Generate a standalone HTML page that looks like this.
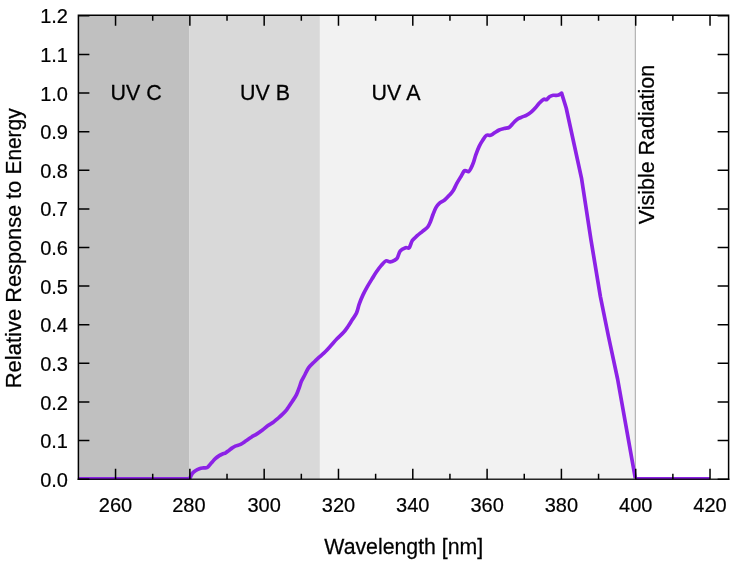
<!DOCTYPE html><html><head><meta charset="utf-8"><style>html,body{margin:0;padding:0;background:#fff;width:750px;height:564px;overflow:hidden}svg{display:block;filter:blur(0.35px)}</style></head><body>
<svg width="750" height="564" viewBox="0 0 750 564">
<rect x="78.4" y="15.3" width="110.70" height="463.90" fill="#c0c0c0"/>
<rect x="189.1" y="15.3" width="130.80" height="463.90" fill="#d9d9d9"/>
<rect x="319.90" y="15.3" width="315.40" height="463.90" fill="#f2f2f2"/>
<line x1="635.3" y1="15.3" x2="635.3" y2="479.2" stroke="#a6a6a6" stroke-width="1"/>
<g font-family="Liberation Sans" font-size="22" fill="#000" stroke="#000" stroke-width="0.25" text-anchor="middle">
<text transform="translate(136,99.5) scale(0.975,1)">UV C</text>
<text transform="translate(265,99.5) scale(0.975,1)">UV B</text>
<text transform="translate(396,99.5) scale(0.975,1)">UV A</text>
<text transform="translate(654.3,144.5) rotate(-90) scale(0.975,1)">Visible Radiation</text>
<text text-anchor="start" transform="translate(21,388.3) rotate(-90) scale(1.0,1)">Relative</text>
<text text-anchor="start" transform="translate(21,302.8) rotate(-90) scale(0.99,1)">Response</text>
<text text-anchor="start" transform="translate(21,199.05) rotate(-90) scale(1.0,1)">to</text>
<text text-anchor="start" transform="translate(21,174.55) rotate(-90) scale(0.95,1)">Energy</text>
<text transform="translate(403.8,553.8) scale(0.968,1)">Wavelength [nm]</text>
</g>
<polyline points="78.4,478.3 189.6,478.3" fill="none" stroke="#8c22e6" stroke-width="2.7"/>
<polyline points="635.3,478.3 710,478.3" fill="none" stroke="#8c22e6" stroke-width="2.7"/>
<path d="M189.60,478.30C189.70,478.17 189.77,478.30 190.20,477.50C190.63,476.70 191.33,474.63 192.20,473.50C193.07,472.37 194.20,471.50 195.40,470.70C196.60,469.90 198.08,469.17 199.40,468.70C200.72,468.23 201.98,468.10 203.30,467.90C204.62,467.70 205.97,468.30 207.30,467.50C208.63,466.70 209.97,464.57 211.30,463.10C212.63,461.63 213.97,459.95 215.30,458.70C216.63,457.45 218.10,456.38 219.30,455.60C220.50,454.82 221.43,454.47 222.50,454.00C223.57,453.53 224.63,453.40 225.70,452.80C226.77,452.20 227.80,451.22 228.90,450.40C230.00,449.58 231.23,448.62 232.30,447.90C233.37,447.18 233.92,446.70 235.30,446.10C236.68,445.50 238.82,445.18 240.60,444.30C242.38,443.42 244.22,441.98 246.00,440.80C247.78,439.62 249.53,438.32 251.30,437.20C253.07,436.08 254.73,435.30 256.60,434.10C258.47,432.90 260.60,431.43 262.50,430.00C264.40,428.57 266.20,426.78 268.00,425.50C269.80,424.22 271.70,423.45 273.30,422.30C274.90,421.15 276.10,419.92 277.60,418.60C279.10,417.28 280.77,415.90 282.30,414.40C283.83,412.90 285.17,411.72 286.80,409.60C288.43,407.48 290.48,404.20 292.10,401.70C293.72,399.20 295.25,397.12 296.50,394.60C297.75,392.08 298.78,388.82 299.60,386.60C300.42,384.38 300.50,383.32 301.40,381.30C302.30,379.28 303.82,376.73 305.00,374.50C306.18,372.27 306.97,369.98 308.50,367.90C310.03,365.82 312.30,363.88 314.20,362.00C316.10,360.12 318.02,358.35 319.90,356.60C321.78,354.85 323.62,353.38 325.50,351.50C327.38,349.62 329.28,347.42 331.20,345.30C333.12,343.18 334.97,340.92 337.00,338.80C339.03,336.68 341.60,334.60 343.40,332.60C345.20,330.60 346.33,328.93 347.80,326.80C349.27,324.67 350.75,322.10 352.20,319.80C353.65,317.50 355.32,315.65 356.50,313.00C357.68,310.35 358.22,306.92 359.30,303.90C360.38,300.88 361.68,297.73 363.00,294.90C364.32,292.07 365.70,289.57 367.20,286.90C368.70,284.23 370.48,281.38 372.00,278.90C373.52,276.42 374.78,274.22 376.30,272.00C377.82,269.78 379.50,267.45 381.10,265.60C382.70,263.75 384.40,261.52 385.90,260.90C387.40,260.28 388.68,262.00 390.10,261.90C391.52,261.80 393.20,260.97 394.40,260.30C395.60,259.63 396.32,259.48 397.30,257.90C398.28,256.32 398.92,252.50 400.30,250.80C401.68,249.10 404.12,248.22 405.60,247.70C407.08,247.18 408.08,248.88 409.20,247.70C410.32,246.52 410.97,242.60 412.30,240.60C413.63,238.60 415.50,237.25 417.20,235.70C418.90,234.15 420.73,232.78 422.50,231.30C424.27,229.82 426.47,228.43 427.80,226.80C429.13,225.17 429.63,223.55 430.50,221.50C431.37,219.45 432.12,216.78 433.00,214.50C433.88,212.22 434.75,209.65 435.80,207.80C436.85,205.95 437.83,204.70 439.30,203.40C440.77,202.10 442.90,201.38 444.60,200.00C446.30,198.62 448.03,196.73 449.50,195.10C450.97,193.47 452.18,192.15 453.40,190.20C454.62,188.25 455.50,185.75 456.80,183.40C458.10,181.05 459.90,178.22 461.20,176.10C462.50,173.98 463.38,171.43 464.60,170.70C465.82,169.97 467.45,172.10 468.50,171.70C469.55,171.30 470.12,169.72 470.90,168.30C471.68,166.88 472.38,165.45 473.20,163.20C474.02,160.95 474.78,157.65 475.80,154.80C476.82,151.95 478.15,148.53 479.30,146.10C480.45,143.67 481.48,142.00 482.70,140.20C483.92,138.40 485.30,136.12 486.60,135.30C487.90,134.48 489.20,135.70 490.50,135.30C491.80,134.90 492.95,133.78 494.40,132.90C495.85,132.02 497.58,130.73 499.20,130.00C500.82,129.27 502.47,128.92 504.10,128.50C505.73,128.08 507.70,128.15 509.00,127.50C510.30,126.85 510.83,125.72 511.90,124.60C512.97,123.48 514.27,121.83 515.40,120.80C516.53,119.77 517.55,119.05 518.70,118.40C519.85,117.75 520.97,117.45 522.30,116.90C523.63,116.35 525.23,115.90 526.70,115.10C528.17,114.30 529.63,113.33 531.10,112.10C532.57,110.87 534.15,109.17 535.50,107.70C536.85,106.23 537.85,104.70 539.20,103.30C540.55,101.90 542.38,99.90 543.60,99.30C544.82,98.70 545.52,100.13 546.50,99.70C547.48,99.27 548.38,97.43 549.50,96.70C550.62,95.97 551.85,95.53 553.20,95.30C554.55,95.07 556.38,95.55 557.60,95.30C558.82,95.05 559.83,94.17 560.50,93.80C561.17,93.43 561.42,93.22 561.60,93.10L566.2,108 L581.6,178.7 L591,240 L600.4,296.6 L608.6,337 L617.6,379 L635.3,478.3" fill="none" stroke="#8c22e6" stroke-width="3.7" stroke-linejoin="round" stroke-linecap="butt"/>
<path d="M78.4,479.95V15.3H728.6V479.95" fill="none" stroke="#000" stroke-width="1.5" stroke-linejoin="miter"/>
<path d="M115.55,479.2v-10.5M115.55,15.3v10.5M152.71,479.2v-5.5M152.71,15.3v5.5M189.86,479.2v-10.5M189.86,15.3v10.5M227.02,479.2v-5.5M227.02,15.3v5.5M264.17,479.2v-10.5M264.17,15.3v10.5M301.33,479.2v-5.5M301.33,15.3v5.5M338.48,479.2v-10.5M338.48,15.3v10.5M375.63,479.2v-5.5M375.63,15.3v5.5M412.79,479.2v-10.5M412.79,15.3v10.5M449.94,479.2v-5.5M449.94,15.3v5.5M487.10,479.2v-10.5M487.10,15.3v10.5M524.25,479.2v-5.5M524.25,15.3v5.5M561.41,479.2v-10.5M561.41,15.3v10.5M598.56,479.2v-5.5M598.56,15.3v5.5M635.71,479.2v-10.5M635.71,15.3v10.5M672.87,479.2v-5.5M672.87,15.3v5.5M710.02,479.2v-10.5M710.02,15.3v10.5M78.4,479.20h11M728.6,479.20h-11M78.4,440.58h11M728.6,440.58h-11M78.4,401.97h11M728.6,401.97h-11M78.4,363.35h11M728.6,363.35h-11M78.4,324.73h11M728.6,324.73h-11M78.4,286.12h11M728.6,286.12h-11M78.4,247.50h11M728.6,247.50h-11M78.4,208.88h11M728.6,208.88h-11M78.4,170.27h11M728.6,170.27h-11M78.4,131.65h11M728.6,131.65h-11M78.4,93.03h11M728.6,93.03h-11M78.4,54.42h11M728.6,54.42h-11M78.4,15.80h11M728.6,15.80h-11" stroke="#000" stroke-width="1.5" fill="none"/>
<path d="M77.60000000000001,479.2H729.4" stroke="#000" stroke-width="1.5" opacity="0.85"/>
<g font-family="Liberation Sans" font-size="20" fill="#000" stroke="#000" stroke-width="0.2">
<text x="115.55" y="511.6" text-anchor="middle">260</text>
<text x="188.86" y="511.6" text-anchor="middle">280</text>
<text x="264.17" y="511.6" text-anchor="middle">300</text>
<text x="338.48" y="511.6" text-anchor="middle">320</text>
<text x="412.79" y="511.6" text-anchor="middle">340</text>
<text x="487.10" y="511.6" text-anchor="middle">360</text>
<text x="561.41" y="511.6" text-anchor="middle">380</text>
<text x="635.71" y="511.6" text-anchor="middle">400</text>
<text x="710.02" y="511.6" text-anchor="middle">420</text>
<text x="68" y="486.80" text-anchor="end">0.0</text>
<text x="68" y="448.18" text-anchor="end">0.1</text>
<text x="68" y="409.57" text-anchor="end">0.2</text>
<text x="68" y="370.95" text-anchor="end">0.3</text>
<text x="68" y="332.33" text-anchor="end">0.4</text>
<text x="68" y="293.72" text-anchor="end">0.5</text>
<text x="68" y="255.10" text-anchor="end">0.6</text>
<text x="68" y="216.48" text-anchor="end">0.7</text>
<text x="68" y="177.87" text-anchor="end">0.8</text>
<text x="68" y="139.25" text-anchor="end">0.9</text>
<text x="68" y="100.63" text-anchor="end">1.0</text>
<text x="68" y="62.02" text-anchor="end">1.1</text>
<text x="68" y="23.40" text-anchor="end">1.2</text>
</g>
</svg></body></html>
